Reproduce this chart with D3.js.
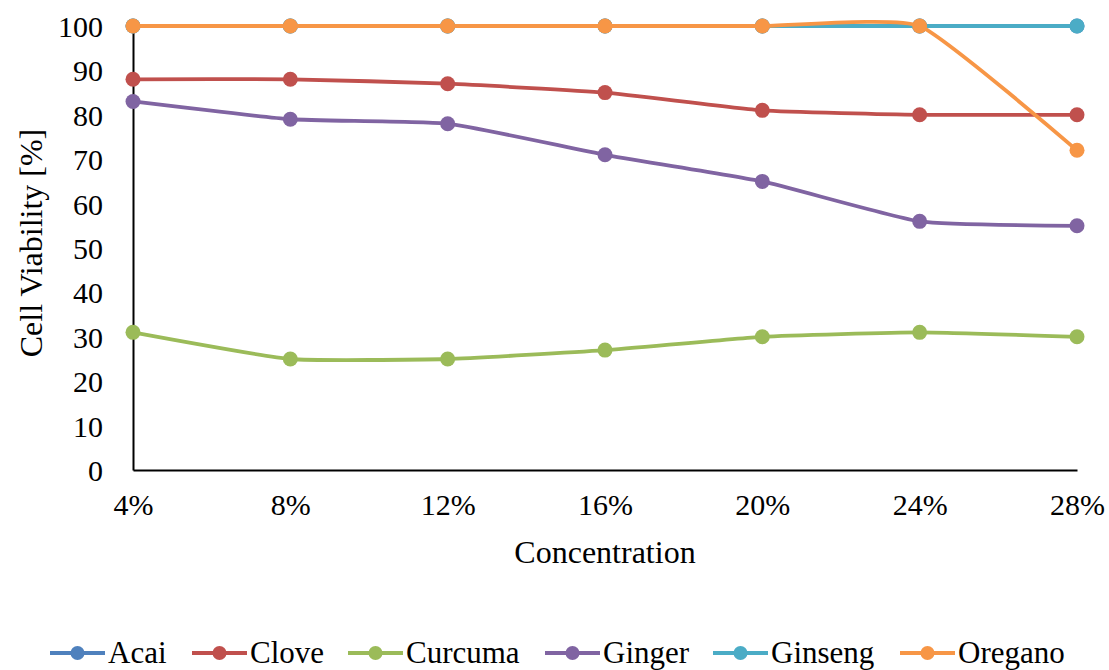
<html>

<head>
    <script src="https://d3js.org/d3.v7.min.js"></script>
    <style>
        body { margin: 0; background: #fff; }
        text { font-family: "Liberation Serif", "Times New Roman", serif; fill: #000; }
        .axis .domain { stroke: #000; stroke-width: 2; }
        .axis line { stroke: none; }
    </style>
</head>

<body>
    <svg id="chartArea" width="1109" height="670"></svg>
    <script>
        // data
        const concentrations = ["4%", "8%", "12%", "16%", "20%", "24%", "28%"];
        const seriesNames = ["Acai", "Clove", "Curcuma", "Ginger", "Ginseng", "Oregano"];
        const acai = [100, 100, 100, 100, 100, 100, 100];
        const clove = [88, 88, 87, 85, 81, 80, 80];
        const curcuma = [31, 25, 25, 27, 30, 31, 30];
        const ginger = [83, 79, 78, 71, 65, 56, 55];
        const ginseng = [100, 100, 100, 100, 100, 100, 100];
        const oregano = [100, 100, 100, 100, 100, 100, 72];
        const yTicks = [0, 10, 20, 30, 40, 50, 60, 70, 80, 90, 100];
        const colors = ["#4F81BD", "#C0504D", "#9BBB59", "#8064A2", "#4BACC6", "#F79646"];

        const allValues = [acai, clove, curcuma, ginger, ginseng, oregano];
        const series = seriesNames.map((name, i) => ({
            name: name,
            color: colors[i],
            values: allValues[i].map((v, j) => ({ x: concentrations[j], y: v }))
        }));

        const svg = d3.select("#chartArea");
        const margins = { top: 26, left: 133, right: 32, bottom: 200 };
        const chartWidth = 1109 - margins.left - margins.right;
        const chartHeight = 670 - margins.top - margins.bottom;

        const xScale = d3.scalePoint().domain(concentrations).range([0, chartWidth]);
        const yScale = d3.scaleLinear().domain([0, 100]).range([chartHeight, 0]);

        const chartArea = svg.append("g")
            .attr("transform", `translate(${margins.left},${margins.top})`);

        // axes
        const leftAxis = d3.axisLeft(yScale).tickValues(yTicks).tickSize(0).tickPadding(30);
        chartArea.append("g")
            .attr("class", "axis")
            .call(leftAxis)
            .call(g => g.selectAll("text").style("font-size", "30px").style("font-family", "Liberation Serif").attr("dy", "0.35em"));

        const bottomAxis = d3.axisBottom(xScale).tickSize(0).tickPadding(24);
        chartArea.append("g")
            .attr("class", "axis")
            .attr("transform", `translate(0,${chartHeight})`)
            .call(bottomAxis)
            .call(g => g.selectAll("text").style("font-size", "30px").style("font-family", "Liberation Serif"));

        // axis titles
        svg.append("text")
            .attr("transform", `translate(42,243) rotate(-90)`)
            .attr("text-anchor", "middle")
            .style("font-size", "32px")
            .text("Cell Viability [%]");

        svg.append("text")
            .attr("x", 605)
            .attr("y", 563)
            .attr("text-anchor", "middle")
            .style("font-size", "32px")
            .text("Concentration");

        // smoothed lines, less overshoot than plain catmull-rom
        const lineGenerator = d3.line()
            .x(d => xScale(d.x))
            .y(d => yScale(d.y))
            .curve(d3.curveCardinal.tension(0.55));

        const gTags = chartArea.selectAll(".lines")
            .data(series)
            .join("g")
            .attr("class", "lines");

        gTags.append("path")
            .attr("d", d => lineGenerator(d.values))
            .attr("fill", "none")
            .attr("stroke", d => d.color)
            .attr("stroke-width", 3.8);

        gTags.selectAll("circle")
            .data(d => d.values.map(v => ({ ...v, color: d.color })))
            .join("circle")
            .attr("r", 7.5)
            .attr("cx", d => xScale(d.x))
            .attr("cy", d => yScale(d.y))
            .attr("fill", d => d.color);

        // legend
        const legendX = [50, 192, 348, 545, 713, 900];
        const legend = svg.append("g").attr("transform", "translate(0,653)");
        const items = legend.selectAll(".item")
            .data(series)
            .join("g")
            .attr("class", "item")
            .attr("transform", (d, i) => `translate(${legendX[i]},0)`);

        items.append("line")
            .attr("x1", 0).attr("x2", 55)
            .attr("stroke", d => d.color)
            .attr("stroke-width", 3.8);
        items.append("circle")
            .attr("cx", 27.5).attr("r", 7)
            .attr("fill", d => d.color);
        items.append("text")
            .attr("x", 58)
            .attr("y", 10)
            .style("font-size", "31px")
            .text(d => d.name);
    </script>
</body>

</html>
